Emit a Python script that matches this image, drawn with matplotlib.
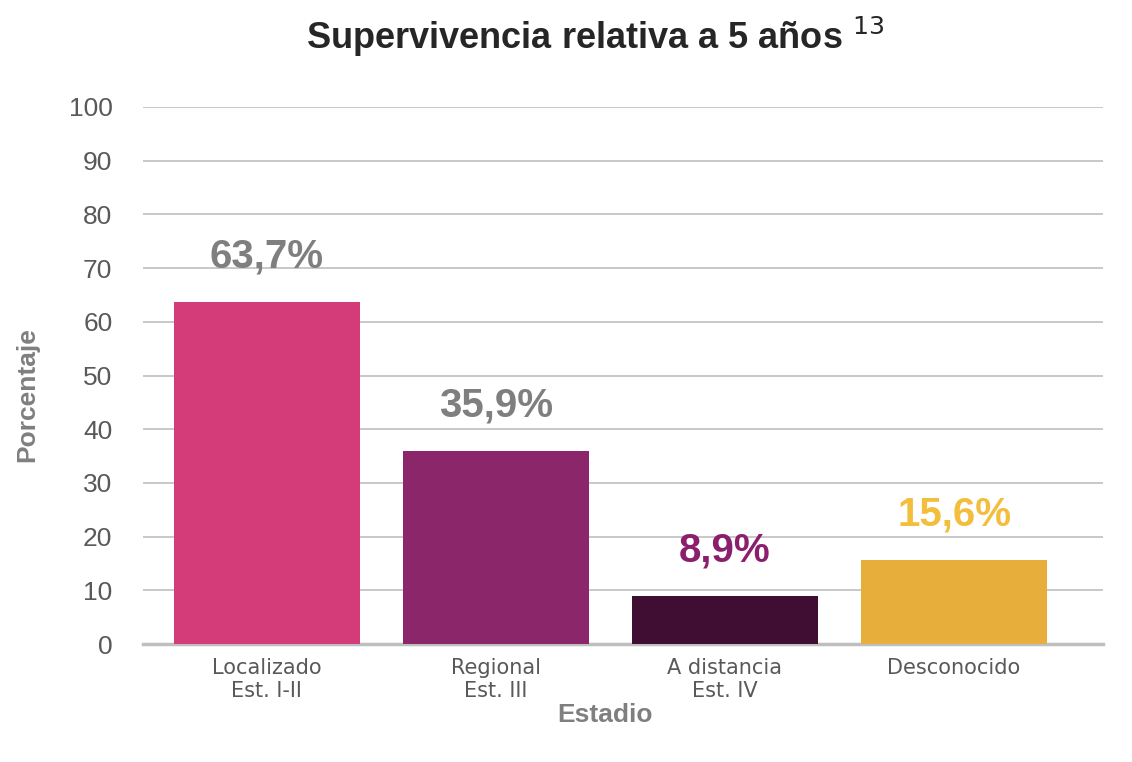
import matplotlib.pyplot as plt
import numpy as np

categorias = ['Localizado\nEst. I-II', 'Regional\nEst. III', 'A distancia\nEst. IV', 'Desconocido']
valores = [63.7, 35.9, 8.9, 15.6]
etiquetas = ['63,7%', '35,9%', '8,9%', '15,6%']
colores = ['#D33C78', '#8B266B', '#400D33', '#E8AE3B']
colores_txt = ['#7F7F7F', '#7F7F7F', '#8B1F6E', '#F2BE3C']

plt.rcParams['font.family'] = ['Liberation Sans', 'DejaVu Sans']
fig = plt.figure(figsize=(11.32, 7.62), dpi=100)
ax = fig.add_axes([143/1132, 1-644/762, 960/1132, 537/762])

x = np.arange(len(categorias))
ax.bar(x, valores, width=0.81, color=colores, zorder=3)
for i in range(len(x)):
    ax.text(x[i], valores[i] + 5, etiquetas[i], ha='center', va='bottom',
            fontsize=29, fontweight='bold', color=colores_txt[i], zorder=4)

ax.set_ylim(0, 100)
ax.set_xlim(-0.54, 3.65)
ax.set_yticks(range(0, 101, 10))
ax.grid(axis='y', color='#BFBFBF', linewidth=1.2, zorder=0)
ax.set_xticks(x)
ax.set_xticklabels(categorias, fontsize=15, color='#595959', family=['DejaVu Sans'])
ax.tick_params(axis='y', labelsize=19, colors='#595959', length=0, pad=22)
ax.tick_params(axis='x', length=0, pad=10)
for s in ['top', 'right', 'left']:
    ax.spines[s].set_visible(False)
ax.spines['bottom'].set_color('#BFBFBF')
ax.spines['bottom'].set_linewidth(2.5)

fig.text(27/1132, 1-395/762, 'Porcentaje', ha='center', va='center', rotation=90,
         fontsize=19, fontweight='bold', color='#7F7F7F')
fig.text(605/1132, 1-715/762, 'Estadio', ha='center', va='center',
         fontsize=19, fontweight='bold', color='#7F7F7F')
fig.text(595/1132, 1-37/762, 'Supervivencia relativa a 5 años $^{13}$', ha='center', va='center',
         fontsize=26, fontweight='bold', color='#262626')

plt.savefig('out.png', dpi=100)
